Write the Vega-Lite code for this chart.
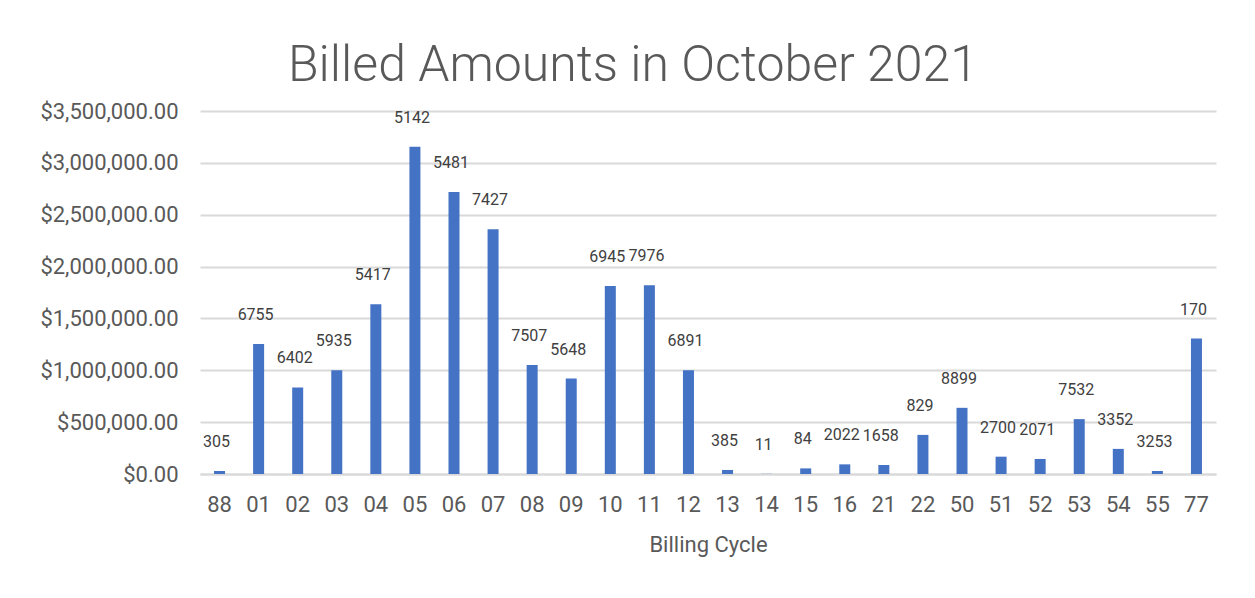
{
  "$schema": "https://vega.github.io/schema/vega-lite/v6.json",
  "width": 1016,
  "height": 363,
  "autosize": "none",
  "padding": {"left": 200, "top": 111, "right": 39, "bottom": 124},
  "background": "white",
  "title": {
    "text": "Billed Amounts in October 2021",
    "font": "Roboto",
    "fontSize": 50,
    "fontWeight": 300,
    "color": "#595959",
    "anchor": "middle",
    "dx": -75,
    "offset": 9
  },
  "data": {
    "values": [
      {"cycle": "88", "amount": 29000, "count": 305},
      {"cycle": "01", "amount": 1254000, "count": 6755},
      {"cycle": "02", "amount": 835000, "count": 6402},
      {"cycle": "03", "amount": 1000000, "count": 5935},
      {"cycle": "04", "amount": 1637000, "count": 5417},
      {"cycle": "05", "amount": 3155000, "count": 5142},
      {"cycle": "06", "amount": 2720000, "count": 5481},
      {"cycle": "07", "amount": 2360000, "count": 7427},
      {"cycle": "08", "amount": 1050000, "count": 7507},
      {"cycle": "09", "amount": 920000, "count": 5648},
      {"cycle": "10", "amount": 1812000, "count": 6945},
      {"cycle": "11", "amount": 1820000, "count": 7976},
      {"cycle": "12", "amount": 1000000, "count": 6891},
      {"cycle": "13", "amount": 39000, "count": 385},
      {"cycle": "14", "amount": 1500, "count": 11},
      {"cycle": "15", "amount": 54000, "count": 84},
      {"cycle": "16", "amount": 93000, "count": 2022},
      {"cycle": "21", "amount": 87000, "count": 1658},
      {"cycle": "22", "amount": 377000, "count": 829},
      {"cycle": "50", "amount": 638000, "count": 8899},
      {"cycle": "51", "amount": 167000, "count": 2700},
      {"cycle": "52", "amount": 145000, "count": 2071},
      {"cycle": "53", "amount": 529000, "count": 7532},
      {"cycle": "54", "amount": 242000, "count": 3352},
      {"cycle": "55", "amount": 29000, "count": 3253},
      {"cycle": "77", "amount": 1306000, "count": 170}
    ]
  },
  "encoding": {
    "x": {
      "field": "cycle",
      "type": "nominal",
      "sort": null,
      "title": "Billing Cycle",
      "scale": {"paddingInner": 0.7, "paddingOuter": 0.35},
      "axis": {
        "labelAngle": 0,
        "labelFont": "Roboto",
        "labelFontSize": 22,
        "labelColor": "#595959",
        "labelPadding": 20,
        "titleFont": "Roboto",
        "titleFontSize": 22,
        "titleFontWeight": "normal",
        "titleColor": "#595959",
        "titlePadding": 19,
        "ticks": false,
        "domainColor": "#d9d9d9",
        "domainWidth": 2
      }
    },
    "y": {
      "field": "amount",
      "type": "quantitative",
      "title": null,
      "scale": {"domain": [0, 3500000], "nice": false},
      "axis": {
        "values": [0, 500000, 1000000, 1500000, 2000000, 2500000, 3000000, 3500000],
        "format": "$,.2f",
        "labelFont": "Roboto",
        "labelFontSize": 22,
        "labelColor": "#595959",
        "labelPadding": 22,
        "ticks": false,
        "domain": false,
        "gridColor": "#d9d9d9",
        "gridWidth": 2
      }
    }
  },
  "layer": [
    {
      "mark": {"type": "bar", "color": "#4472c4", "width": 11}
    },
    {
      "mark": {
        "type": "text",
        "font": "Roboto",
        "fontSize": 16,
        "color": "#404040",
        "baseline": "middle",
        "dy": -29,
        "dx": -3
      },
      "encoding": {"text": {"field": "count", "type": "quantitative", "format": "d"}}
    }
  ],
  "config": {"view": {"stroke": null}}
}
